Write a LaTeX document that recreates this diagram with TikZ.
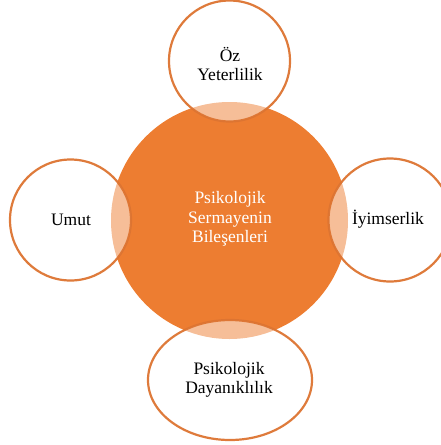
\documentclass[tikz,border=0pt]{standalone}
\usepackage{fontspec}
\setmainfont{Liberation Serif}
\definecolor{corefill}{HTML}{ED7D31}
\definecolor{ringline}{HTML}{DD7431}
\tikzset{
  core/.style={fill=corefill, draw=none},
  petal/.style={draw=ringline, line width=2.2pt, fill=white, fill opacity=0.5, draw opacity=0.95},
  lbl/.style={align=center, font=\fontsize{17.5}{19.5}\selectfont, text=black},
  corelbl/.style={align=center, font=\fontsize{17.5}{19.5}\selectfont, text=white}
}
\begin{document}
\begin{tikzpicture}[x=1pt,y=-1pt]
\useasboundingbox (0,0) rectangle (440,445);
\fill[core] (229.5,220.5) circle (118.5);
\node[corelbl] (c) at (230,219) {Psikolojik\\Sermayenin\\Bileşenleri};
\draw[petal] (229.5,61) circle (60.5);
\draw[petal] (70.5,220) circle (60.5);
\draw[petal] (390,220) circle (61.5);
\draw[petal] (230,380) ellipse (82 and 60);
\node[lbl] (top) at (230,64) {Öz\\Yeterlilik};
\node[lbl] (left) at (71,220) {Umut};
\node[lbl] (right) at (388,219) {İyimserlik};
\node[lbl] (bottom) at (229,380) {Psikolojik\\Dayanıklılık};
\end{tikzpicture}
\end{document}
